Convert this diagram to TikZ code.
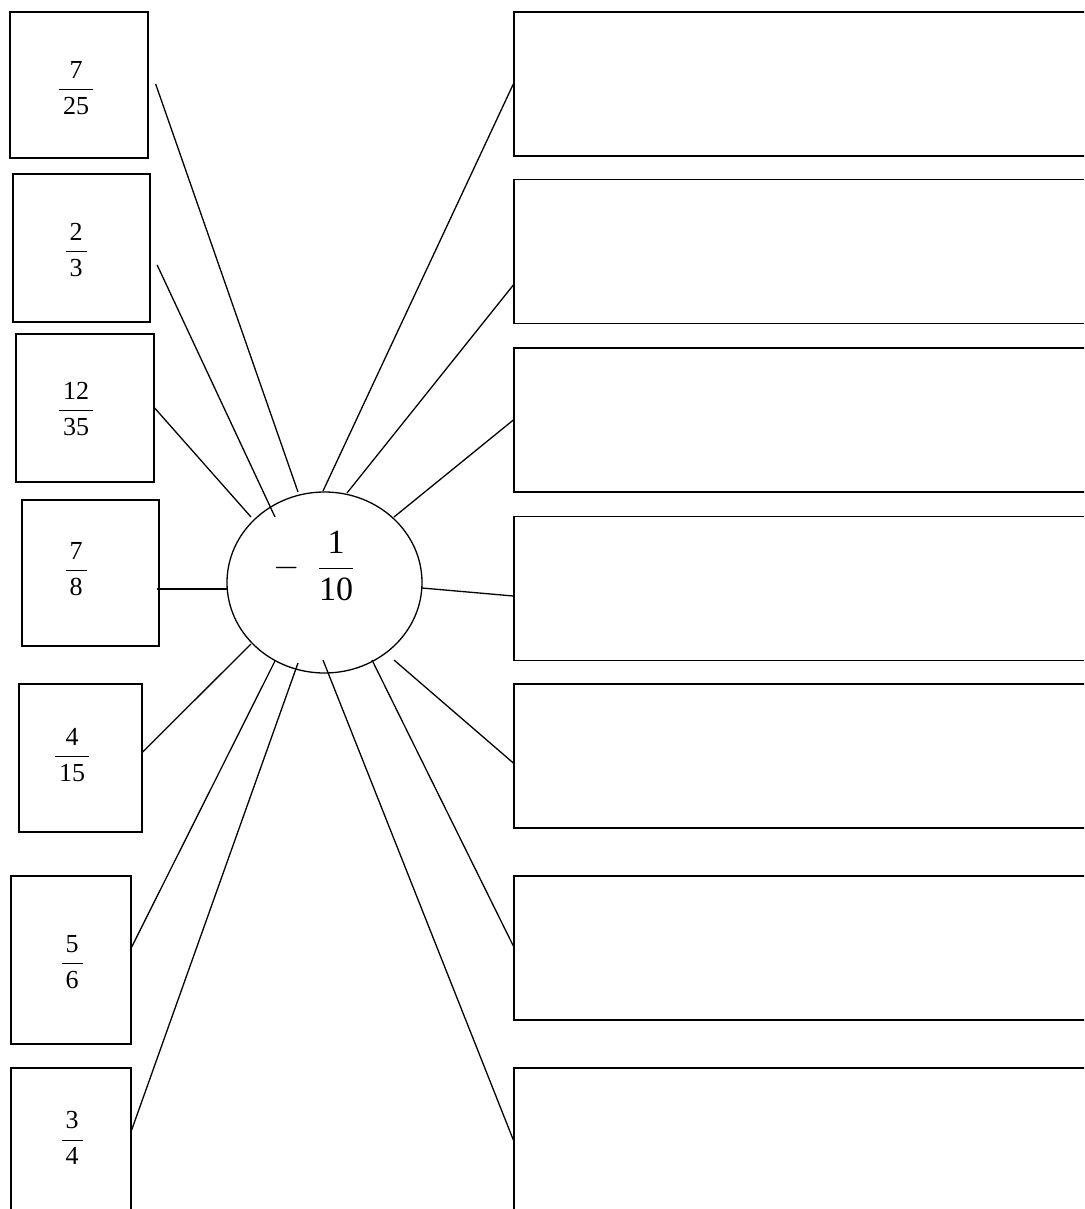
\documentclass[tikz,border=0pt]{standalone}
\usepackage{fix-cm}
\usepackage{amsmath}
\usepackage{fontspec}
\setmainfont{Liberation Serif}
\usetikzlibrary{shapes.geometric,calc}

\newcommand{\ps}[2]{$\dfrac{\hspace{4pt}\text{#1}\hspace{4pt}}{\hspace{4pt}\text{#2}\hspace{4pt}}$}

\begin{document}
\begin{tikzpicture}[x=1pt, y=-1pt, line width=1.3pt,
    otrai/.style={draw, minimum width=#1, inner sep=0pt},
    ophai/.style={draw, minimum width=586pt, minimum height=144pt, inner sep=0pt},
    phanso/.style={font=\fontsize{26}{30}\selectfont, inner sep=0pt},
    noi/.style={line width=1.3pt}]
    \clip (0,0) rectangle (1084,1209);

    % 1. Các ô phân số bên trái
    \node[otrai=138pt, minimum height=146pt] (l1) at (79,85) {};
    \node[otrai=137pt, minimum height=148pt] (l2) at (81.5,248) {};
    \node[otrai=138pt, minimum height=148pt] (l3) at (85,408) {};
    \node[otrai=137pt, minimum height=146pt] (l4) at (90.5,573) {};
    \node[otrai=123pt, minimum height=148pt] (l5) at (80.5,758) {};
    \node[otrai=120pt, minimum height=168pt] (l6) at (71,960) {};
    \node[otrai=120pt, minimum height=146pt] (l7) at (71,1141) {};

    \node[phanso] (v1) at (76,88) {\ps{7}{25}};
    \node[phanso] (v2) at (76,250) {\ps{2}{3}};
    \node[phanso] (v3) at (76,409) {\ps{12}{35}};
    \node[phanso] (v4) at (76,569) {\ps{7}{8}};
    \node[phanso] (v5) at (72,755) {\ps{4}{15}};
    \node[phanso] (v6) at (72,962) {\ps{5}{6}};
    \node[phanso] (v7) at (72,1138) {\ps{3}{4}};

    % 2. Hình tròn ở giữa
    \node[draw, ellipse, minimum width=195pt, minimum height=181pt, inner sep=0pt] (c) at (324.5,582.5) {};
    \node[font=\fontsize{34}{40}\selectfont, inner sep=0pt] (cv) at (314,566)
        {$-\hspace{18pt}\dfrac{\text{1}}{\text{10}}$};

    % 3. Các ô trống bên phải
    \node[ophai] (r1) at (807,84) {};
    \node[ophai] (r2) at (807,251.5) {};
    \node[ophai] (r3) at (807,420) {};
    \node[ophai] (r4) at (807,588.5) {};
    \node[ophai] (r5) at (807,756) {};
    \node[ophai] (r6) at (807,948) {};
    \node[ophai] (r7) at (807,1140) {};

    % 4. Các đoạn nối
    \draw[noi] ($(l1.east)+(7,-1)$) -- ($(c)+(-26.5,-90.5)$);
    \draw[noi] ($(l2.east)+(6.5,17)$) -- ($(c)+(-49.5,-65.5)$);
    \draw[noi] (l3.east) -- ($(c)+(-73.5,-65.5)$);
    \draw[noi] ($(l4.east)+(-3,16)$) -- ($(c)+(-97.5,6.5)$);
    \draw[noi] ($(l5.east)+(-1,-5)$) -- ($(c)+(-73.5,61.5)$);
    \draw[noi] ($(l6.east)+(0,-13)$) -- ($(c)+(-49.5,78.5)$);
    \draw[noi] ($(l7.east)+(0,-11)$) -- ($(c)+(-26.5,80.5)$);

    \draw[noi] ($(c)+(-1.5,-91.5)$) -- (r1.west);
    \draw[noi] ($(c)+(22.5,-89.5)$) -- ($(r2.west)+(0,33.5)$);
    \draw[noi] ($(c)+(69.5,-65.5)$) -- (r3.west);
    \draw[noi] ($(c)+(97.5,5.5)$) -- ($(r4.west)+(0,7.5)$);
    \draw[noi] ($(c)+(69.5,77.5)$) -- ($(r5.west)+(0,7)$);
    \draw[noi] ($(c)+(47.5,77.5)$) -- ($(r6.west)+(0,-2)$);
    \draw[noi] ($(c)+(-1.5,77.5)$) -- (r7.west);
\end{tikzpicture}
\end{document}
